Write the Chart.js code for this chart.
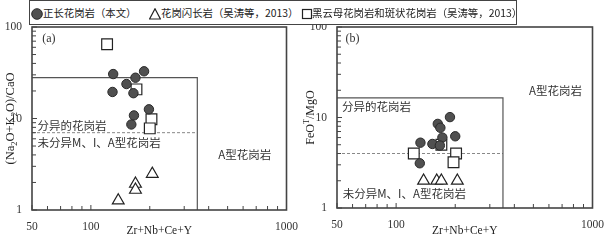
<!DOCTYPE html>
<html>
<head>
<meta charset="utf-8">
<script src="https://cdn.jsdelivr.net/npm/chart.js@4.4.1/dist/chart.umd.min.js"></script>
<style>
html, body { margin: 0; padding: 0; background: #fff; }
#wrap { position: relative; width: 606px; height: 240px; overflow: hidden; }
#wrap canvas { position: absolute; top: 0; }
#legend { position: absolute; left: 29px; top: 0; width: 486px; height: 23px; border: 1px solid #444; background: #fff; }
.item { position: absolute; top: 0; height: 23px; line-height: 23px; font-family: "Noto Sans CJK SC"; font-size: 10.4px; color: #222; white-space: nowrap; }
.mark { position: absolute; top: 5px; width: 12px; height: 12px; }
</style>
</head>
<body>
<div id="wrap">
  <canvas id="chartA" width="300" height="240" style="left:0;width:300px;height:240px"></canvas>
  <canvas id="chartB" width="306" height="240" style="left:300px;width:306px;height:240px"></canvas>
  <div id="legend"></div>
</div>
<script>
// legend
const legendNames = ['正长花岗岩（本文）', '花岗闪长岩（吴涛等，2013）', '黑云母花岗岩和斑状花岗岩（吴涛等，2013）'];

// ticks
const xLabels = [50, 100, 1000];
const yLabels = [1, 10, 100];

// (a) (Na2O+K2O)/CaO vs Zr+Nb+Ce+Y
const aCircleX = [130, 129, 152, 169, 187, 165, 166, 161, 198];
const aCircleY = [30.6, 19.5, 23.8, 27.9, 32.8, 18.9, 10.8, 8.6, 12.6];
const aTriX = [138, 169, 169, 206];
const aTriY = [1.27, 1.93, 1.66, 2.48];
const aSquareX = [121, 171, 204, 200];
const aSquareY = [64.7, 20.8, 9.8, 7.8];
const aFieldX = [50, 350, 350];
const aFieldY = [28, 28, 1];
const aDashX = [50, 350];
const aDashY = [7, 7];

// (b) FeOT/MgO vs Zr+Nb+Ce+Y
const bCircleX = [133, 132, 153, 163, 168, 172, 167, 188, 200];
const bCircleY = [5.27, 3.12, 5.1, 8.5, 7.7, 6.0, 4.9, 10.1, 6.2];
const bTriX = [138, 161, 170, 205];
const bTriY = [2.0, 2.0, 2.0, 2.0];
const bSquareX = [123, 170, 202, 196];
const bSquareY = [4.0, 5.0, 4.0, 3.2];
const bFieldX = [50, 350, 350];
const bFieldY = [16.5, 16.5, 1];
const bDashX = [50, 350];
const bDashY = [4, 4];

function pts(xs, ys) {
    return xs.map((x, i) => ({ x: x, y: ys[i] }));
}

// legend markers
const legendMarks = [
    '<svg width="12" height="12"><circle cx="6" cy="6" r="5.3" fill="#505050" stroke="#2a2a2a"/></svg>',
    '<svg width="12" height="12"><polygon points="6,0.8 11.4,11 0.6,11" fill="#fff" stroke="#222" stroke-width="1.2"/></svg>',
    '<svg width="12" height="12"><rect x="1.5" y="1.5" width="9" height="9" fill="#fff" stroke="#222" stroke-width="1.2"/></svg>'
];
const legendEl = document.getElementById('legend');
const legendLeft = [[1, 13], [119, 131], [271, 282]];
legendNames.forEach((name, i) => {
    const m = document.createElement('span');
    m.className = 'mark';
    m.style.left = legendLeft[i][0] + 'px';
    m.innerHTML = legendMarks[i];
    legendEl.appendChild(m);
    const t = document.createElement('span');
    t.className = 'item';
    t.style.left = legendLeft[i][1] + 'px';
    t.textContent = name;
    legendEl.appendChild(t);
});

// draw text with sub/superscripts (mode 1 = sub, 2 = sup)
function richText(ctx, segs, x, y, size, rotate) {
    ctx.save();
    ctx.translate(x, y);
    if (rotate) ctx.rotate(-Math.PI / 2);
    const small = size * 0.68;
    let total = 0;
    segs.forEach(s => {
        ctx.font = (s[1] ? small : size) + 'px "Liberation Serif"';
        total += ctx.measureText(s[0]).width;
    });
    let cx = -total / 2;
    ctx.textBaseline = 'middle';
    ctx.textAlign = 'left';
    ctx.fillStyle = '#222';
    segs.forEach(s => {
        ctx.font = (s[1] ? small : size) + 'px "Liberation Serif"';
        const dy = s[1] === 1 ? size * 0.3 : (s[1] === 2 ? -size * 0.35 : 0);
        ctx.fillText(s[0], cx, dy);
        cx += ctx.measureText(s[0]).width;
    });
    ctx.restore();
}

function isWholeStep(v) {
    const m = v / Math.pow(10, Math.floor(Math.log10(v) + 1e-9));
    return Math.abs(m - Math.round(m)) < 1e-6;
}

function decorPlugin(yTitle, yTitleSize, labels) {
    return {
        id: 'decor',
        afterDraw(chart) {
            const ctx = chart.ctx;
            const a = chart.chartArea;
            const xs = chart.scales.x, ys = chart.scales.y;
            ctx.save();
            // frame
            ctx.strokeStyle = '#444';
            ctx.lineWidth = 1.6;
            ctx.strokeRect(a.left, a.top, a.right - a.left, a.bottom - a.top);
            // inward ticks, left and bottom
            ctx.lineWidth = 1;
            ctx.beginPath();
            xs.ticks.forEach(t => {
                const px = xs.getPixelForValue(t.value);
                const len = xLabels.includes(t.value) ? 5 : 4;
                ctx.moveTo(px, a.bottom);
                ctx.lineTo(px, a.bottom - len);
            });
            ys.ticks.forEach(t => {
                const py = ys.getPixelForValue(t.value);
                const len = yLabels.includes(t.value) ? 5 : 4;
                ctx.moveTo(a.left, py);
                ctx.lineTo(a.left + len, py);
            });
            ctx.stroke();
            // axis titles
            richText(ctx, [['Zr+Nb+Ce+Y', 0]], (a.left + a.right) / 2, 231, 11.5, false);
            richText(ctx, yTitle, 11, (a.top + a.bottom) / 2, yTitleSize, true);
            // field labels
            labels.forEach(l => {
                ctx.font = l.serif ? '12px "Liberation Serif"' : '11.5px "Noto Sans CJK SC"';
                ctx.fillStyle = '#333';
                ctx.textAlign = l.align || 'left';
                ctx.textBaseline = 'middle';
                ctx.fillText(l.text, xs.getPixelForValue(l.x), ys.getPixelForValue(l.y));
            });
            ctx.restore();
        }
    };
}

function makeChart(id, d, pad, yWidth, xHeight, yTitle, yTitleSize, labels) {
    const tickFont = { family: 'Liberation Serif', size: 11.5 };
    return new Chart(document.getElementById(id), {
        type: 'scatter',
        data: {
            datasets: [
                {
                    data: pts(d.circleX, d.circleY),
                    pointStyle: 'circle',
                    pointRadius: 4.7,
                    backgroundColor: '#505050',
                    borderColor: '#2a2a2a',
                    borderWidth: 1
                },
                {
                    data: pts(d.triX, d.triY),
                    pointStyle: 'triangle',
                    pointRadius: 6.8,
                    backgroundColor: '#fff',
                    borderColor: '#222',
                    borderWidth: 1.2
                },
                {
                    data: pts(d.squareX, d.squareY),
                    pointStyle: 'rect',
                    pointRadius: 7.6,
                    backgroundColor: '#fff',
                    borderColor: '#222',
                    borderWidth: 1.2
                },
                {
                    data: pts(d.fieldX, d.fieldY),
                    showLine: true,
                    pointRadius: 0,
                    borderColor: '#555',
                    borderWidth: 1.2,
                    fill: false
                },
                {
                    data: pts(d.dashX, d.dashY),
                    showLine: true,
                    pointRadius: 0,
                    borderColor: '#888',
                    borderWidth: 1,
                    borderDash: [3, 2],
                    fill: false
                }
            ]
        },
        options: {
            responsive: false,
            animation: false,
            layout: { padding: pad },
            scales: {
                x: {
                    type: 'logarithmic',
                    min: 50,
                    max: 1000,
                    grid: { display: false },
                    border: { display: false },
                    afterBuildTicks: s => { s.ticks = s.ticks.filter(t => isWholeStep(t.value)); },
                    afterFit: s => { s.height = xHeight; },
                    ticks: {
                        autoSkip: false,
                        maxRotation: 0,
                        padding: 2,
                        color: '#333',
                        font: tickFont,
                        callback: v => xLabels.includes(v) ? String(v) : ''
                    }
                },
                y: {
                    type: 'logarithmic',
                    min: 1,
                    max: 100,
                    grid: { display: false },
                    border: { display: false },
                    afterBuildTicks: s => { s.ticks = s.ticks.filter(t => isWholeStep(t.value)); },
                    afterFit: s => { s.width = yWidth; },
                    ticks: {
                        autoSkip: false,
                        padding: 2,
                        color: '#333',
                        font: tickFont,
                        callback: v => yLabels.includes(v) ? String(v) : ''
                    }
                }
            },
            plugins: {
                legend: { display: false },
                tooltip: { enabled: false }
            }
        },
        plugins: [decorPlugin(yTitle, yTitleSize, labels)]
    });
}

makeChart('chartA', {
    circleX: aCircleX, circleY: aCircleY,
    triX: aTriX, triY: aTriY,
    squareX: aSquareX, squareY: aSquareY,
    fieldX: aFieldX, fieldY: aFieldY,
    dashX: aDashX, dashY: aDashY
}, { left: 0, top: 27, right: 11, bottom: 0 }, 32, 30,
[['(Na', 0], ['2', 1], ['O+K', 0], ['2', 1], ['O)/CaO', 0]], 12.5,
[
    { text: '(a)', x: 61, y: 74, serif: true, align: 'center' },
    { text: '分异的花岗岩', x: 53.4, y: 8.3 },
    { text: '未分异M、I、A型花岗岩', x: 53.4, y: 5.5 },
    { text: 'A型花岗岩', x: 448, y: 4.0 }
]);

makeChart('chartB', {
    circleX: bCircleX, circleY: bCircleY,
    triX: bTriX, triY: bTriY,
    squareX: bSquareX, squareY: bSquareY,
    fieldX: bFieldX, fieldY: bFieldY,
    dashX: bDashX, dashY: bDashY
}, { left: 0, top: 27, right: 7, bottom: 0 }, 37, 32,
[['FeO', 0], ['T', 2], ['/MgO', 0]], 12,
[
    { text: '(b)', x: 60, y: 73.7, serif: true, align: 'center' },
    { text: 'A型花岗岩', x: 475, y: 19.6 },
    { text: '分异的花岗岩', x: 53, y: 13.3 },
    { text: '未分异M、I、A型花岗岩', x: 53.5, y: 1.43 }
]);
</script>
</body>
</html>
